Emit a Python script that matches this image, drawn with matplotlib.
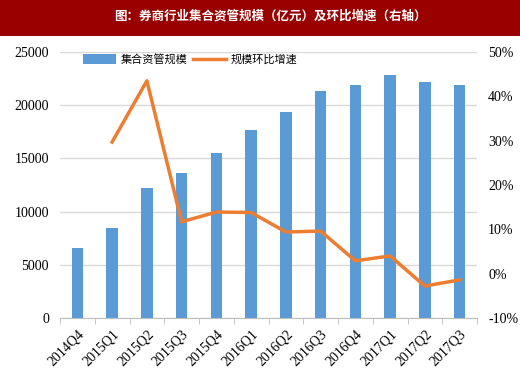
import matplotlib.pyplot as plt
import numpy as np
from matplotlib.patches import Rectangle

plt.rcParams['font.family'] = ['Noto Sans CJK SC', 'DejaVu Sans']

quarters = ['2014Q4', '2015Q1', '2015Q2', '2015Q3', '2015Q4', '2016Q1',
            '2016Q2', '2016Q3', '2016Q4', '2017Q1', '2017Q2', '2017Q3']
scale = [6550, 8500, 12200, 13650, 15550, 17700,
         19400, 21300, 21900, 22800, 22200, 21900]
growth = [None, 29.7, 43.5, 11.7, 13.9, 13.8,
          9.4, 9.6, 2.9, 4.0, -2.8, -1.4]

fig = plt.figure(figsize=(5.2, 3.89), dpi=100)

# title bar
fig.patches.append(Rectangle((0, 1 - 36 / 389), 1, 36 / 389, transform=fig.transFigure,
                             facecolor='#990000', edgecolor='none'))
fig.text(0.52, 1 - 16 / 389, '图：券商行业集合资管规模（亿元）及环比增速（右轴）',
         color='white', fontsize=9, fontweight='bold', ha='center', va='center')

ax = fig.add_axes([60 / 520, 1 - 318 / 389, 417 / 520, 266 / 389])
x = np.arange(len(quarters))
bars = ax.bar(x, scale, width=0.33, color='#5b9bd5', label='集合资管规模', zorder=2)
ax.set_ylim(0, 25000)
ax.set_xlim(-0.5, len(quarters) - 0.5)
ax.set_yticks(np.arange(0, 25001, 5000))
ax.grid(axis='y', color='#d9d9d9', linewidth=1, zorder=0)
for s in ['top', 'right', 'left']:
    ax.spines[s].set_visible(False)
ax.spines['bottom'].set_color('#bfbfbf')
ax.tick_params(axis='y', length=0, labelsize=10, pad=8)
ax.set_xticks(x)
ax.set_xticklabels(quarters, rotation=45, ha='right', rotation_mode='anchor',
                   fontsize=10, family='Liberation Serif')
ax.tick_params(axis='x', length=0, pad=7)
ax.set_xticks(np.arange(-0.5, len(quarters), 1), minor=True)
ax.tick_params(axis='x', which='minor', length=4, color='#bfbfbf')
for lbl in ax.get_yticklabels():
    lbl.set_family('Liberation Serif')

ax2 = ax.twinx()
gx = [i for i, g in enumerate(growth) if g is not None]
gy = [g for g in growth if g is not None]
line, = ax2.plot(gx, gy, color='#ed7d31', linewidth=2.5, label='规模环比增速', zorder=3)
ax2.set_ylim(-10, 50)
ax2.set_yticks(np.arange(-10, 51, 10))
ax2.set_yticklabels([f'{v}%' for v in range(-10, 51, 10)], family='Liberation Serif', fontsize=10)
ax2.tick_params(axis='y', length=0, pad=8)
for s in ['top', 'right', 'left', 'bottom']:
    ax2.spines[s].set_visible(False)

ax.legend([bars, line], ['集合资管规模', '规模环比增速'], loc='upper left',
          bbox_to_anchor=(0.03, 1.03), ncol=2, frameon=False, fontsize=8,
          handlelength=3, handleheight=0.9, columnspacing=0.5, handletextpad=0.4)

fig.savefig('out.png', dpi=100)
